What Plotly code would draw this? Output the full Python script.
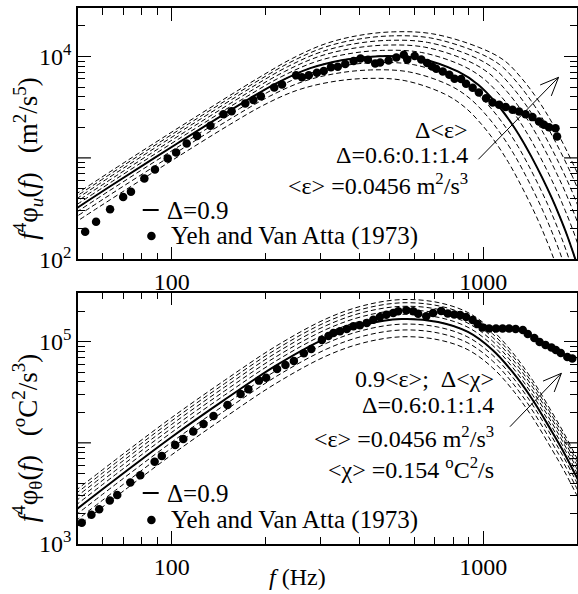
import numpy as np
import plotly.graph_objects as go

# ------------------------------------------------------------------
# Values read off the log-log axes of the reference (stored as log10)
# ------------------------------------------------------------------
DELTAS = ["0.6", "0.7", "0.8", "0.9", "1.0", "1.1", "1.2", "1.3", "1.4"]

# --- top panel: f^4 phi_u(f), Yeh and Van Atta (1973) points ---
U_DATA_LF = [1.722, 1.757, 1.802, 1.844, 1.869, 1.912, 1.946, 1.987, 2.014, 2.048,
             2.081, 2.124, 2.166, 2.192, 2.236, 2.262, 2.286, 2.329, 2.354, 2.399,
             2.418, 2.440, 2.466, 2.488, 2.511, 2.533, 2.557, 2.584, 2.606, 2.630,
             2.653, 2.669, 2.696, 2.721, 2.745, 2.756, 2.780, 2.801, 2.820, 2.836,
             2.849, 2.870, 2.891, 2.908, 2.929, 2.945, 2.966, 2.986, 3.009, 3.030,
             3.051, 3.072, 3.094, 3.115, 3.136, 3.158, 3.179, 3.195, 3.211, 3.232,
             3.237]
U_DATA_LV = [2.272, 2.371, 2.494, 2.615, 2.667, 2.796, 2.885, 2.995, 3.052, 3.141,
             3.217, 3.316, 3.431, 3.461, 3.536, 3.570, 3.609, 3.694, 3.724, 3.814,
             3.795, 3.814, 3.839, 3.856, 3.893, 3.898, 3.926, 3.956, 3.979, 3.967,
             3.930, 3.941, 3.961, 3.989, 4.017, 3.971, 4.004, 3.971, 3.935, 3.901,
             3.879, 3.852, 3.819, 3.780, 3.777, 3.731, 3.691, 3.645, 3.589, 3.546,
             3.523, 3.501, 3.474, 3.457, 3.431, 3.402, 3.358, 3.326, 3.303, 3.293,
             3.210]

# --- top panel model curves, Delta*<eps>, Delta = 0.6 ... 1.4 ---
U_LF_06 = [1.576, 1.766, 1.976, 2.186, 2.296, 2.401, 2.506, 2.621, 2.746, 2.876, 2.941, 2.996, 3.041, 3.081, 3.111, 3.146, 3.176, 3.201, 3.226, 3.246, 3.266, 3.306]
U_LV_06 = [2.133, 2.515, 2.927, 3.328, 3.522, 3.665, 3.746, 3.783, 3.763, 3.630, 3.499, 3.326, 3.146, 2.955, 2.790, 2.580, 2.385, 2.205, 2.010, 1.833, 1.643, 1.240]
U_LF_07 = [1.593, 1.783, 1.993, 2.203, 2.313, 2.418, 2.523, 2.638, 2.763, 2.893, 2.958, 3.013, 3.058, 3.098, 3.128, 3.163, 3.193, 3.218, 3.243, 3.263, 3.283, 3.323]
U_LV_07 = [2.217, 2.599, 3.011, 3.412, 3.606, 3.749, 3.830, 3.867, 3.847, 3.714, 3.583, 3.410, 3.230, 3.039, 2.874, 2.664, 2.469, 2.289, 2.094, 1.917, 1.727, 1.324]
U_LF_08 = [1.607, 1.797, 2.007, 2.217, 2.327, 2.432, 2.537, 2.652, 2.777, 2.907, 2.972, 3.027, 3.072, 3.112, 3.142, 3.177, 3.207, 3.232, 3.257, 3.277, 3.297, 3.337]
U_LV_08 = [2.289, 2.671, 3.083, 3.484, 3.678, 3.821, 3.902, 3.939, 3.919, 3.786, 3.655, 3.482, 3.302, 3.111, 2.946, 2.736, 2.541, 2.361, 2.166, 1.989, 1.799, 1.396]
U_LF_09 = [1.620, 1.810, 2.020, 2.230, 2.340, 2.445, 2.550, 2.665, 2.790, 2.920, 2.985, 3.040, 3.085, 3.125, 3.155, 3.190, 3.220, 3.245, 3.270, 3.290, 3.310, 3.350]
U_LV_09 = [2.353, 2.735, 3.147, 3.548, 3.742, 3.885, 3.966, 4.003, 3.983, 3.850, 3.719, 3.546, 3.366, 3.175, 3.010, 2.800, 2.605, 2.425, 2.230, 2.053, 1.863, 1.460]
U_LF_10 = [1.631, 1.821, 2.031, 2.241, 2.351, 2.456, 2.561, 2.676, 2.801, 2.935, 3.003, 3.058, 3.103, 3.143, 3.173, 3.208, 3.238, 3.263, 3.288, 3.308, 3.328, 3.368]
U_LV_10 = [2.410, 2.792, 3.204, 3.605, 3.799, 3.942, 4.023, 4.060, 4.040, 3.907, 3.776, 3.603, 3.423, 3.232, 3.067, 2.857, 2.662, 2.482, 2.287, 2.110, 1.920, 1.517]
U_LF_11 = [1.642, 1.832, 2.042, 2.252, 2.362, 2.467, 2.572, 2.687, 2.812, 2.949, 3.021, 3.076, 3.121, 3.161, 3.191, 3.226, 3.256, 3.281, 3.306, 3.326, 3.346, 3.386]
U_LV_11 = [2.462, 2.844, 3.256, 3.657, 3.851, 3.994, 4.075, 4.112, 4.092, 3.959, 3.828, 3.655, 3.475, 3.284, 3.119, 2.909, 2.714, 2.534, 2.339, 2.162, 1.972, 1.569]
U_LF_12 = [1.651, 1.841, 2.051, 2.261, 2.371, 2.476, 2.581, 2.696, 2.821, 2.962, 3.037, 3.092, 3.137, 3.177, 3.207, 3.242, 3.272, 3.297, 3.322, 3.342, 3.362, 3.402]
U_LV_12 = [2.509, 2.891, 3.303, 3.704, 3.898, 4.041, 4.122, 4.159, 4.139, 4.006, 3.875, 3.702, 3.522, 3.331, 3.166, 2.956, 2.761, 2.581, 2.386, 2.209, 2.019, 1.616]
U_LF_13 = [1.660, 1.850, 2.060, 2.270, 2.380, 2.485, 2.590, 2.705, 2.830, 2.974, 3.053, 3.108, 3.153, 3.193, 3.223, 3.258, 3.288, 3.313, 3.338, 3.358, 3.378, 3.418]
U_LV_13 = [2.553, 2.935, 3.347, 3.748, 3.942, 4.085, 4.166, 4.203, 4.183, 4.050, 3.919, 3.746, 3.566, 3.375, 3.210, 3.000, 2.805, 2.625, 2.430, 2.253, 2.063, 1.660]
U_LF_14 = [1.668, 1.858, 2.068, 2.278, 2.388, 2.493, 2.598, 2.713, 2.838, 2.986, 3.068, 3.123, 3.168, 3.208, 3.238, 3.273, 3.303, 3.328, 3.353, 3.373, 3.393, 3.433]
U_LV_14 = [2.593, 2.975, 3.387, 3.788, 3.982, 4.125, 4.206, 4.243, 4.223, 4.090, 3.959, 3.786, 3.606, 3.415, 3.250, 3.040, 2.845, 2.665, 2.470, 2.293, 2.103, 1.700]

# --- bottom panel: f^4 phi_theta(f), Yeh and Van Atta (1973) points ---
T_DATA_LF = [1.711, 1.742, 1.767, 1.801, 1.825, 1.867, 1.899, 1.945, 1.968, 2.011,
             2.037, 2.069, 2.102, 2.134, 2.179, 2.221, 2.246, 2.280, 2.303, 2.338,
             2.365, 2.392, 2.424, 2.448, 2.482, 2.503, 2.519, 2.540, 2.562, 2.583,
             2.604, 2.626, 2.647, 2.668, 2.689, 2.711, 2.727, 2.753, 2.775, 2.791,
             2.817, 2.839, 2.865, 2.886, 2.907, 2.926, 2.945, 2.966, 2.982, 2.998,
             3.019, 3.041, 3.062, 3.083, 3.104, 3.127, 3.143, 3.164, 3.181, 3.200,
             3.219, 3.233, 3.249, 3.270, 3.286]
T_DATA_LV = [3.211, 3.288, 3.344, 3.429, 3.485, 3.607, 3.680, 3.814, 3.871, 3.979,
             4.039, 4.111, 4.187, 4.266, 4.375, 4.483, 4.530, 4.615, 4.644, 4.730,
             4.770, 4.809, 4.885, 4.928, 5.017, 5.056, 5.086, 5.103, 5.126, 5.152,
             5.162, 5.185, 5.217, 5.244, 5.267, 5.284, 5.300, 5.310, 5.300, 5.277,
             5.251, 5.284, 5.303, 5.279, 5.269, 5.264, 5.244, 5.214, 5.175, 5.140,
             5.130, 5.130, 5.130, 5.130, 5.126, 5.116, 5.076, 5.037, 4.997, 4.967,
             4.943, 4.918, 4.888, 4.849, 4.834]

# --- bottom panel model curves, 0.9<eps>, Delta*<chi>, Delta = 0.6 ... 1.4 ---
T_LF = [1.690, 1.850, 2.000, 2.169, 2.338, 2.498, 2.616, 2.737, 2.855, 2.951, 3.030, 3.094, 3.159, 3.221, 3.258, 3.293, 3.310]
T_LV_06 = [3.157, 3.536, 3.882, 4.248, 4.594, 4.861, 4.989, 5.048, 5.019, 4.920, 4.742, 4.525, 4.248, 3.932, 3.734, 3.527, 3.424]
T_LV_07 = [3.224, 3.603, 3.949, 4.315, 4.661, 4.928, 5.056, 5.115, 5.086, 4.987, 4.809, 4.592, 4.315, 3.999, 3.801, 3.594, 3.491]
T_LV_08 = [3.282, 3.661, 4.007, 4.373, 4.719, 4.986, 5.114, 5.173, 5.144, 5.045, 4.867, 4.650, 4.373, 4.057, 3.859, 3.652, 3.549]
T_LV_09 = [3.333, 3.712, 4.058, 4.424, 4.770, 5.037, 5.165, 5.224, 5.195, 5.096, 4.918, 4.701, 4.424, 4.108, 3.910, 3.703, 3.600]
T_LV_10 = [3.379, 3.758, 4.104, 4.470, 4.816, 5.083, 5.211, 5.270, 5.241, 5.142, 4.964, 4.747, 4.470, 4.154, 3.956, 3.749, 3.646]
T_LV_11 = [3.420, 3.799, 4.145, 4.511, 4.857, 5.124, 5.252, 5.311, 5.282, 5.183, 5.005, 4.788, 4.511, 4.195, 3.997, 3.790, 3.687]
T_LV_12 = [3.458, 3.837, 4.183, 4.549, 4.895, 5.162, 5.290, 5.349, 5.320, 5.221, 5.043, 4.826, 4.549, 4.233, 4.035, 3.828, 3.725]
T_LV_13 = [3.493, 3.872, 4.218, 4.584, 4.930, 5.197, 5.325, 5.384, 5.355, 5.256, 5.078, 4.861, 4.584, 4.268, 4.070, 3.863, 3.760]
T_LV_14 = [3.525, 3.904, 4.250, 4.616, 4.962, 5.229, 5.357, 5.416, 5.387, 5.288, 5.110, 4.893, 4.616, 4.300, 4.102, 3.895, 3.792]

# --- axis ticks ---
X_RANGE = [50, 2000]
X_MAJOR = [100, 1000]
X_MAJOR_TEXT = ["100", "1000"]
X_MINOR = [60, 70, 80, 90, 200, 300, 400, 500, 600, 700, 800, 900, 2000]
U_Y_RANGE = [100, 30060]
U_Y_LABELLED = [100, 10000]
U_Y_LABELLED_TEXT = ["10<sup>2</sup>", "10<sup>4</sup>"]
U_Y_UNLABELLED_DECADE = 1000
U_Y_MINOR = [200, 300, 400, 500, 600, 700, 800, 900,
             2000, 3000, 4000, 5000, 6000, 7000, 8000, 9000, 20000, 30000]
T_Y_RANGE = [1000, 304800]
T_Y_LABELLED = [1000, 100000]
T_Y_LABELLED_TEXT = ["10<sup>3</sup>", "10<sup>5</sup>"]
T_Y_UNLABELLED_DECADE = 10000
T_Y_MINOR = [2000, 3000, 4000, 5000, 6000, 7000, 8000, 9000,
             20000, 30000, 40000, 50000, 60000, 70000, 80000, 90000, 200000, 300000]

# ------------------------------------------------------------------
FONT = "Liberation Serif, Times New Roman, serif"
W, H = 580, 594
ML, MR, MT, MB = 78, 1, 8, 50
PW, PH = W - ML - MR, H - MT - MB
MAJOR_LEN, MINOR_LEN = 13, 7


def px(x):
    return (x - ML) / PW


def py(y):
    return (H - MB - y) / PH


def lg(a):
    return 10 ** np.asarray(a, dtype=float)


fig = go.Figure()

U_MODEL = [(U_LF_06, U_LV_06), (U_LF_07, U_LV_07), (U_LF_08, U_LV_08),
           (U_LF_09, U_LV_09), (U_LF_10, U_LV_10), (U_LF_11, U_LV_11),
           (U_LF_12, U_LV_12), (U_LF_13, U_LV_13), (U_LF_14, U_LV_14)]
T_MODEL = [T_LV_06, T_LV_07, T_LV_08, T_LV_09, T_LV_10, T_LV_11, T_LV_12,
           T_LV_13, T_LV_14]

DASHED = dict(color="black", width=1, dash="5px,3px", shape="spline")
SOLID = dict(color="black", width=2, shape="spline")
DOTS = dict(color="black", size=8.5)

for d, (lf, lv) in zip(DELTAS, U_MODEL):
    fig.add_trace(go.Scatter(x=lg(lf), y=lg(lv), mode="lines", name="Δ=" + d,
                             line=DASHED, xaxis="x", yaxis="y", showlegend=False))
fig.add_trace(go.Scatter(x=lg(U_LF_09), y=lg(U_LV_09), mode="lines", name="Δ=0.9",
                         line=SOLID, xaxis="x", yaxis="y", showlegend=False))
fig.add_trace(go.Scatter(x=lg(U_DATA_LF), y=lg(U_DATA_LV), mode="markers",
                         name="Yeh and Van Atta (1973)", marker=DOTS,
                         xaxis="x", yaxis="y", showlegend=False))

for d, lv in zip(DELTAS, T_MODEL):
    fig.add_trace(go.Scatter(x=lg(T_LF), y=lg(lv), mode="lines", name="Δ=" + d,
                             line=DASHED, xaxis="x2", yaxis="y2", showlegend=False))
fig.add_trace(go.Scatter(x=lg(T_LF), y=lg(T_LV_09), mode="lines", name="Δ=0.9",
                         line=SOLID, xaxis="x2", yaxis="y2", showlegend=False))
fig.add_trace(go.Scatter(x=lg(T_DATA_LF), y=lg(T_DATA_LV), mode="markers",
                         name="Yeh and Van Atta (1973)", marker=DOTS,
                         xaxis="x2", yaxis="y2", showlegend=False))

TOP_DOM = [py(259.3), 1.0]
BOT_DOM = [0.0, py(292.7)]


def xaxis(anchor):
    return dict(type="log", range=[np.log10(X_RANGE[0]), np.log10(X_RANGE[1])],
                anchor=anchor, domain=[0, 1],
                tickmode="array", tickvals=X_MAJOR, ticktext=X_MAJOR_TEXT,
                ticks="inside", ticklen=MAJOR_LEN, tickwidth=1.2, tickcolor="black",
                minor=dict(tickmode="array", tickvals=X_MINOR, ticks="inside",
                           ticklen=MINOR_LEN, tickwidth=1, tickcolor="black",
                           showgrid=False),
                showline=True, linecolor="black", linewidth=1.5, mirror="allticks",
                showgrid=False, zeroline=False,
                tickfont=dict(family=FONT, size=24, color="black"))


def yaxis(anchor, dom, rng, major, text, minor):
    return dict(type="log", range=[np.log10(rng[0]), np.log10(rng[1])],
                anchor=anchor, domain=dom,
                tickmode="array", tickvals=major, ticktext=text,
                ticks="inside", ticklen=MAJOR_LEN, tickwidth=1.2, tickcolor="black",
                minor=dict(tickmode="array", tickvals=minor, ticks="inside",
                           ticklen=MINOR_LEN, tickwidth=1, tickcolor="black",
                           showgrid=False),
                showline=True, linecolor="black", linewidth=1.5, mirror="allticks",
                showgrid=False, zeroline=False,
                tickfont=dict(family=FONT, size=24, color="black"))


annotations = []


def text(x, y, s, size=24, xanchor="right", angle=0):
    annotations.append(dict(x=px(x), y=py(y), xref="paper", yref="paper", text=s,
                            showarrow=False, xanchor=xanchor, yanchor="middle",
                            textangle=angle,
                            font=dict(family=FONT, size=size, color="black")))


# panel texts
text(472, 129.5, "Δ&lt;ε&gt;")
text(472, 155, "Δ=0.6:0.1:1.4")
text(472, 184, "&lt;ε&gt; =0.0456 m<sup>2</sup>/s<sup>3</sup>")
text(498, 378.5, "0.9&lt;ε&gt;;\u2002Δ&lt;χ&gt;")
text(498, 405, "Δ=0.6:0.1:1.4")
text(498, 436.5, "&lt;ε&gt; =0.0456 m<sup>2</sup>/s<sup>3</sup>")
text(498, 468.5, "&lt;χ&gt; =0.154 <sup>o</sup>C<sup>2</sup>/s")
# key texts
for yl, yd in ((210, 236), (493, 520)):
    text(165, yl, "Δ=0.9", size=25, xanchor="left")
    text(169, yd, "Yeh and Van Atta (1973)", size=25, xanchor="left")
# axis titles
text(298, 577, "<i>f</i> (Hz)", size=24, xanchor="center")
text(27, 158.5, "<i>f</i><sup>4</sup>φ<sub><i>u</i></sub>(<i>f</i>)\u2002\u2009(m<sup>2</sup>/s<sup>5</sup>)",
     size=27, xanchor="center", angle=-90)
text(27, 438, "<i>f</i><sup>4</sup>φ<sub>θ</sub>(<i>f</i>)\u2002\u2009(<sup>o</sup>C<sup>2</sup>/s<sup>3</sup>)",
     size=27, xanchor="center", angle=-90)

shapes = []


def seg(a, b, w=1.0):
    shapes.append(dict(type="line", xref="paper", yref="paper",
                       x0=px(a[0]), y0=py(a[1]), x1=px(b[0]), y1=py(b[1]),
                       line=dict(color="black", width=w)))


def arrow(tail, tip, length=20, ang=23):
    seg(tail, tip)
    d = np.array([tail[0] - tip[0], tail[1] - tip[1]], dtype=float)
    d /= np.hypot(*d)
    for s in (1, -1):
        a = np.radians(s * ang)
        r = np.array([d[0] * np.cos(a) - d[1] * np.sin(a),
                      d[0] * np.sin(a) + d[1] * np.cos(a)])
        seg(tip, (tip[0] + length * r[0], tip[1] + length * r[1]))


arrow((480, 159.3), (560.5, 77.3))
arrow((511.7, 426.7), (563.3, 373.3))

# long (unlabelled) decade ticks on both vertical edges of each panel
for dom, rng, val in ((TOP_DOM, U_Y_RANGE, U_Y_UNLABELLED_DECADE),
                      (BOT_DOM, T_Y_RANGE, T_Y_UNLABELLED_DECADE)):
    lo, hi = np.log10(rng)
    yp = dom[0] + (np.log10(val) - lo) / (hi - lo) * (dom[1] - dom[0])
    for x0, x1 in ((0.0, MAJOR_LEN / PW), (1.0, 1.0 - MAJOR_LEN / PW)):
        shapes.append(dict(type="line", xref="paper", yref="paper",
                           x0=x0, x1=x1, y0=yp, y1=yp,
                           line=dict(color="black", width=1.2)))

# key glyphs (line sample and dot)
for yl, yd in ((210, 236), (493, 520)):
    seg((143, yl), (159, yl), w=2)
    r = 4.3
    shapes.append(dict(type="circle", xref="paper", yref="paper",
                       x0=px(151.7 - r), x1=px(151.7 + r), y0=py(yd + r), y1=py(yd - r),
                       fillcolor="black", line=dict(color="black", width=0)))

fig.update_layout(
    width=W, height=H, autosize=False,
    margin=dict(l=ML, r=MR, t=MT, b=MB, pad=0),
    paper_bgcolor="white", plot_bgcolor="white",
    xaxis=xaxis("y"),
    yaxis=yaxis("x", TOP_DOM, U_Y_RANGE, U_Y_LABELLED, U_Y_LABELLED_TEXT, U_Y_MINOR),
    xaxis2=xaxis("y2"),
    yaxis2=yaxis("x2", BOT_DOM, T_Y_RANGE, T_Y_LABELLED, T_Y_LABELLED_TEXT, T_Y_MINOR),
    annotations=annotations, shapes=shapes, showlegend=False,
    font=dict(family=FONT, color="black"),
)

fig.write_html("out.html", config={"displayModeBar": False},
               post_script="document.body.style.margin='0';document.body.style.overflow='hidden';")
